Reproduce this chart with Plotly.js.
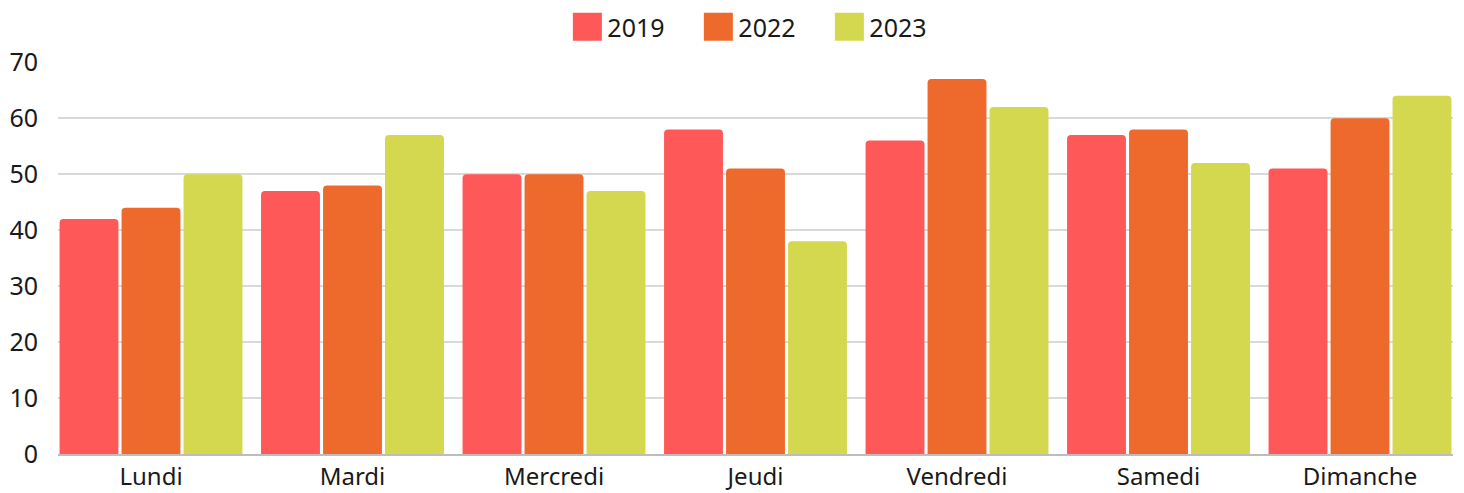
<!DOCTYPE html>
<html><head><meta charset="utf-8">
<script src="https://cdn.plot.ly/plotly-3.0.1.min.js"></script>
<style>html,body{margin:0;padding:0;background:#fff}#chart{width:1464px;height:493px}</style>
</head><body><div id="chart"></div>
<script>
const categories = ["Lundi","Mardi","Mercredi","Jeudi","Vendredi","Samedi","Dimanche"];
const seriesNames = ["2019","2022","2023"];
const values2019 = [42,47,50,58,56,57,51];
const values2022 = [44,48,50,51,67,58,60];
const values2023 = [50,57,47,38,62,52,64];
const colors = ["#FF5858","#EE6A2C","#D3D84F"];
const yTicks = [0,10,20,30,40,50,60,70];

const allValues = [values2019, values2022, values2023];
const traces = seriesNames.map((n,i)=>({
  type:'bar', name:n, x:categories, y:allValues[i],
  marker:{color:colors[i], line:{width:0}}, hoverinfo:'x+y+name'
}));
const FONT = "Noto Sans, sans-serif";
const layout = {
  width:1464, height:493,
  margin:{l:58,r:11,t:62,b:39,autoexpand:false},
  paper_bgcolor:'#fff', plot_bgcolor:'#fff',
  font:{family:FONT, size:25, color:'#1a1a1a'},
  barmode:'group', bargap:0.077, bargroupgap:0.05, barcornerradius:4,
  showlegend:true,
  legend:{orientation:'h', x:0.506, xanchor:'center', y:1.089, yanchor:'middle',
          font:{family:FONT,size:25,color:'#1a1a1a'}, entrywidth:86, entrywidthmode:'pixels', traceorder:'normal'},
  xaxis:{type:'category', range:[-0.4615, categories.length-1+0.4615], showgrid:false,
         showline:true, linecolor:'#bdbdbd', linewidth:1.5, ticks:'', ticklabelstandoff:1,
         tickfont:{family:FONT,size:24,color:'#1a1a1a'}, fixedrange:true},
  yaxis:{range:[0,70.05], tickvals:yTicks, ticktext:yTicks.map(String), showgrid:true, gridcolor:'#d9d9d9', gridwidth:1.5,
         zeroline:false, showline:false, ticks:'', ticklabelstandoff:19,
         tickfont:{family:FONT,size:25,color:'#1a1a1a'}, fixedrange:true}
};
const gd = document.getElementById('chart');
function bigLegend(){
  gd.querySelectorAll('.legend .legendpoints path').forEach(p=>{
    p.setAttribute('d','M14.5,14H-14.5V-14H14.5Z');
  });
}
Plotly.newPlot(gd, traces, layout, {displayModeBar:false, staticPlot:true}).then(()=>{
  bigLegend();
  gd.on('plotly_afterplot', bigLegend);
});
</script></body></html>
